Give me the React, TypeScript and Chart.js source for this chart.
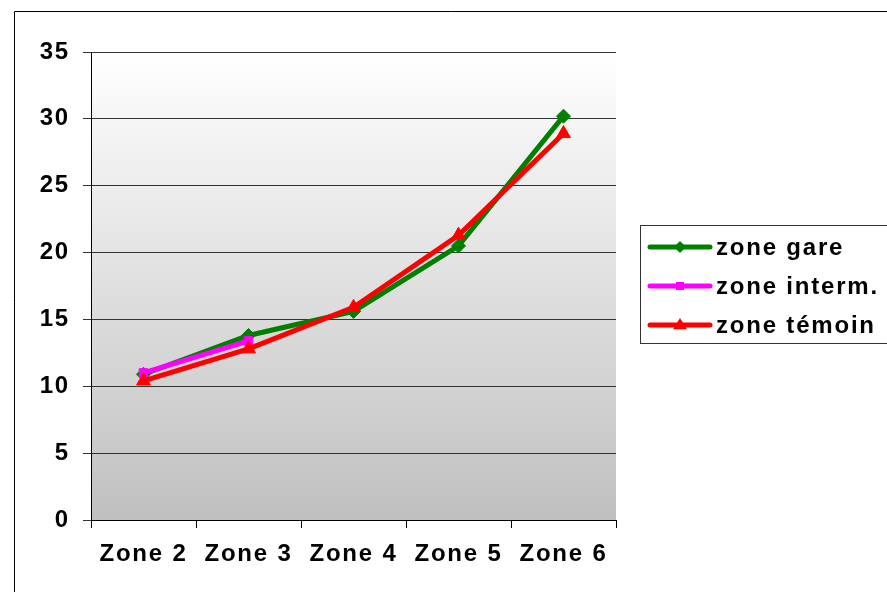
import React, { useEffect, useRef } from "react";
import { Chart, registerables } from "chart.js";

Chart.register(...registerables);

const zones = ["Zone 2", "Zone 3", "Zone 4", "Zone 5", "Zone 6"];
const zoneGare = [10.9, 13.8, 15.6, 20.5, 30.2];
const zoneInterm = [11.0, 13.4, null, null, null];
const zoneTemoin = [10.4, 12.8, 15.9, 21.3, 28.9];

const seriesNames = ["zone gare", "zone interm.", "zone témoin"];
const seriesColors = ["#008000", "#ff00ff", "#ff0000"];
const seriesMarkers = ["rectRot", "rect", "triangle"];
const markerSizes = [7, 6, 8];

const FONT_FAMILY = "'Liberation Sans', Arial, sans-serif";
const SPACING = "1.8px";

const W = 887;
const H = 592;

// Letter spacing on the context for the wide, airy Excel-style labels
const spacingPlugin = {
  id: "spacing",
  beforeLayout(chart: any) {
    chart.ctx.letterSpacing = SPACING;
  },
  beforeDraw(chart: any) {
    chart.ctx.letterSpacing = SPACING;
  },
};

// Outer frame and the grey gradient behind the plot
const backgroundPlugin = {
  id: "background",
  beforeDraw(chart: any) {
    const { ctx, chartArea } = chart;
    ctx.save();
    ctx.fillStyle = "#ffffff";
    ctx.fillRect(0, 0, W, H);
    ctx.strokeStyle = "#000000";
    ctx.lineWidth = 1;
    ctx.beginPath();
    ctx.moveTo(14.5, H + 2);
    ctx.lineTo(14.5, 11.5);
    ctx.lineTo(W + 2, 11.5);
    ctx.stroke();
    const g = ctx.createLinearGradient(0, chartArea.top, 0, chartArea.bottom);
    g.addColorStop(0, "#ffffff");
    g.addColorStop(1, "#c0c0c0");
    ctx.fillStyle = g;
    ctx.fillRect(chartArea.left, chartArea.top, chartArea.right - chartArea.left, chartArea.bottom - chartArea.top);
    ctx.restore();
  },
};

function drawMarker(ctx: CanvasRenderingContext2D, style: string, r: number, x: number, y: number) {
  ctx.beginPath();
  if (style === "rectRot") {
    ctx.moveTo(x, y - r);
    ctx.lineTo(x + r, y);
    ctx.lineTo(x, y + r);
    ctx.lineTo(x - r, y);
  } else if (style === "rect") {
    ctx.rect(x - r * 0.8, y - r * 0.8, 1.6 * r, 1.6 * r);
  } else {
    ctx.moveTo(x, y - r);
    ctx.lineTo(x + r, y + r * 0.6);
    ctx.lineTo(x - r, y + r * 0.6);
  }
  ctx.closePath();
  ctx.fill();
}

// Boxed legend on the right
const legendPlugin = {
  id: "boxLegend",
  afterDraw(chart: any) {
    const { ctx } = chart;
    ctx.save();
    ctx.fillStyle = "#ffffff";
    ctx.fillRect(640, 225, 260, 118);
    ctx.strokeStyle = "#333333";
    ctx.lineWidth = 1;
    ctx.strokeRect(640.5, 225.5, 260, 118);
    const ys = [247, 286, 325];
    seriesNames.forEach((name, i) => {
      const y = ys[i];
      const color = seriesColors[i];
      ctx.strokeStyle = color;
      ctx.lineWidth = 5;
      ctx.lineCap = "round";
      ctx.beginPath();
      ctx.moveTo(650, y);
      ctx.lineTo(710, y);
      ctx.stroke();
      ctx.fillStyle = color;
      drawMarker(ctx, seriesMarkers[i], markerSizes[i] - 1, 680, y);
      ctx.fillStyle = "#000000";
      ctx.font = `bold 24px ${FONT_FAMILY}`;
      ctx.letterSpacing = SPACING;
      ctx.textBaseline = "middle";
      ctx.textAlign = "left";
      ctx.fillText(name, 716, y + 1);
    });
    ctx.restore();
  },
};

export default function App() {
  const ref = useRef<HTMLCanvasElement>(null);

  useEffect(() => {
    if (!ref.current) return;
    const tickFont = { family: FONT_FAMILY, size: 24, weight: "bold" as const };
    const data = [zoneGare, zoneInterm, zoneTemoin];
    const chart = new Chart(ref.current, {
      type: "line",
      data: {
        labels: zones,
        datasets: data.map((vals, i) => ({
          label: seriesNames[i],
          data: vals,
          borderColor: seriesColors[i],
          backgroundColor: seriesColors[i],
          pointBackgroundColor: seriesColors[i],
          pointBorderColor: seriesColors[i],
          pointStyle: seriesMarkers[i] as any,
          pointRadius: markerSizes[i],
          pointBorderWidth: 1,
          borderWidth: 5,
          tension: 0,
          fill: false,
          spanGaps: false,
          order: 2 - i,
        })),
      },
      options: {
        animation: false,
        responsive: false,
        devicePixelRatio: 1,
        layout: { padding: { left: 0, top: 52, right: W - 616, bottom: 0 } },
        plugins: {
          legend: { display: false },
          tooltip: { enabled: false },
        },
        scales: {
          x: {
            type: "category",
            offset: true,
            grid: {
              display: true,
              drawOnChartArea: false,
              drawTicks: true,
              tickLength: 8,
              color: "#000000",
              offset: true,
            },
            border: { display: true, color: "#000000" },
            ticks: { color: "#000000", font: tickFont, padding: 12, maxRotation: 0, autoSkip: false },
            afterFit: (s: any) => {
              s.height = 72;
            },
          },
          y: {
            min: 0,
            max: 35,
            ticks: { stepSize: 5, color: "#000000", font: tickFont, padding: 13 },
            grid: { color: "#333333", tickLength: 8, lineWidth: 1 },
            border: { display: true, color: "#000000" },
            afterFit: (s: any) => {
              s.width = 91;
            },
          },
        },
      },
      plugins: [spacingPlugin, backgroundPlugin, legendPlugin],
    });
    return () => chart.destroy();
  }, []);

  return (
    <div style={{ position: "fixed", left: 0, top: 0, width: W, height: H }}>
      <canvas ref={ref} width={W} height={H} style={{ width: W, height: H, display: "block" }} />
    </div>
  );
}
